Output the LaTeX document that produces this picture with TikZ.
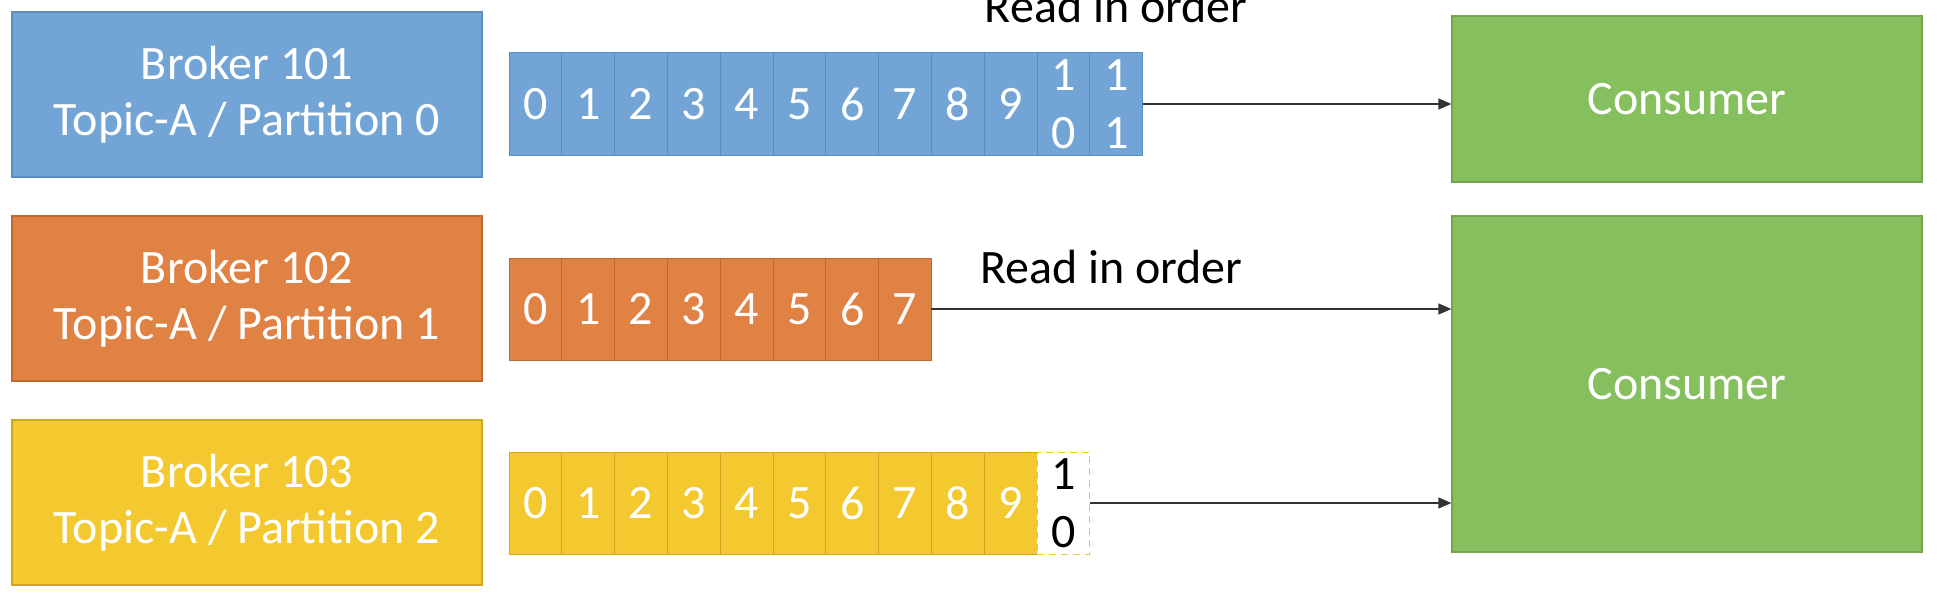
\documentclass[tikz,border=0pt]{standalone}
\usepackage{fontspec}
\setmainfont{Carlito}
\usetikzlibrary{arrows.meta, positioning}
\definecolor{brokerblue}{HTML}{72A5D6}
\definecolor{blueedge}{HTML}{5A8CBD}
\definecolor{brokerorange}{HTML}{E08244}
\definecolor{orangeedge}{HTML}{C0682F}
\definecolor{brokeryellow}{HTML}{F3C92F}
\definecolor{yellowedge}{HTML}{CFA61C}
\definecolor{consumergreen}{HTML}{86BF5E}
\definecolor{greenedge}{HTML}{71A64D}
\newcommand{\labelfont}{\fontsize{48}{56}\selectfont}
\newcommand{\digitfont}{\fontsize{48}{58}\selectfont}

\begin{document}
\begin{tikzpicture}[x=1pt, y=1pt,
  broker/.style={rectangle, minimum width=470pt, minimum height=165pt, align=center, text=white, font=\labelfont, line width=1.2pt},
  cell/.style={rectangle, minimum width=52.8pt, minimum height=102pt, inner sep=0pt, outer sep=0pt, align=center, text=white, font=\digitfont, line width=1pt},
  consumer/.style={rectangle, minimum width=470pt, fill=consumergreen, draw=greenedge, text=white, font=\labelfont, line width=1.2pt},
  readlabel/.style={inner sep=0pt, font=\labelfont, text=black},
  readarrow/.style={-{Triangle[length=13pt, width=11pt]}, line width=1.3pt, draw=black!80}]
\useasboundingbox (0,0) rectangle (1938,-594);

% Brokers on the left
\node (b101) [broker, fill=brokerblue, draw=blueedge] at (247,-94.5) {Broker 101\\Topic-A / Partition 0};
\node (b102) [broker, fill=brokerorange, draw=orangeedge] at (247,-298.5) {Broker 102\\Topic-A / Partition 1};
\node (b103) [broker, fill=brokeryellow, draw=yellowedge] at (247,-502.5) {Broker 103\\Topic-A / Partition 2};

% Partition logs
\foreach \i in {0,...,9} {
  \node (p0c\i) [cell, fill=brokerblue, draw=blueedge] at ({535.4+52.8*\i},-104) {\i};
}
\node (p0c10) [cell, fill=brokerblue, draw=blueedge, right=0pt of p0c9] {1\\0};
\node (p0c11) [cell, fill=brokerblue, draw=blueedge, right=0pt of p0c10] {1\\1};

\foreach \i in {0,...,7} {
  \node (p1c\i) [cell, fill=brokerorange, draw=orangeedge] at ({535.4+52.8*\i},-309) {\i};
}

\foreach \i in {0,...,9} {
  \node (p2c\i) [cell, fill=brokeryellow, draw=yellowedge] at ({535.4+52.8*\i},-503) {\i};
}
\node (p2c10) [cell, fill=white, draw=brokeryellow, dash pattern=on 7pt off 5pt, text=black, right=0pt of p2c9] {1\\0};

% Consumers on the right
\node (cons0) [consumer, minimum height=166pt] at (1687,-99) {Consumer};
\node (cons1) [consumer, minimum height=336pt] at (1687,-384) {Consumer};

% Reads
\node (read0) [readlabel, above=30pt of p0c11] {Read in order};
\draw[readarrow] (p0c11.east) -- (p0c11.east -| cons0.west);
\draw[readarrow] (p1c7.east) -- node (read1) [readlabel, above=25pt, pos=0.346] {Read in order} (p1c7.east -| cons1.west);
\draw[readarrow] (p2c10.east) -- (p2c10.east -| cons1.west);

\end{tikzpicture}
\end{document}
